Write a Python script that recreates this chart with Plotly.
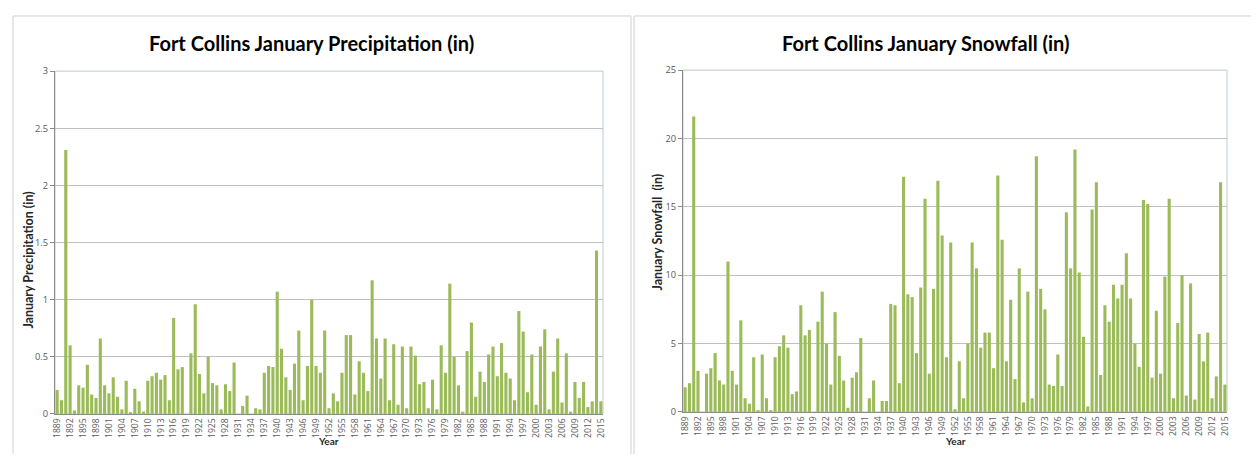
import plotly.graph_objects as go

years = list(range(1889, 2016))

precip_in = [
    0.21, 0.12, 2.31, 0.60, 0.03, 0.25, 0.23, 0.43, 0.17, 0.14,
    0.66, 0.25, 0.18, 0.32, 0.15, 0.04, 0.29, 0.01, 0.22, 0.11,
    0.02, 0.29, 0.33, 0.36, 0.30, 0.34, 0.12, 0.84, 0.39, 0.41,
    0.00, 0.53, 0.96, 0.35, 0.18, 0.50, 0.27, 0.25, 0.04, 0.26,
    0.20, 0.45, 0.00, 0.07, 0.16, 0.00, 0.05, 0.04, 0.36, 0.42,
    0.41, 1.07, 0.57, 0.32, 0.21, 0.44, 0.73, 0.12, 0.42, 1.00,
    0.42, 0.36, 0.73, 0.05, 0.18, 0.11, 0.36, 0.69, 0.69, 0.17,
    0.46, 0.36, 0.20, 1.17, 0.66, 0.31, 0.66, 0.12, 0.61, 0.08,
    0.59, 0.05, 0.59, 0.51, 0.26, 0.28, 0.05, 0.30, 0.04, 0.60,
    0.36, 1.14, 0.50, 0.25, 0.02, 0.55, 0.80, 0.15, 0.37, 0.28,
    0.52, 0.59, 0.33, 0.62, 0.36, 0.31, 0.12, 0.90, 0.72, 0.19,
    0.52, 0.08, 0.59, 0.74, 0.04, 0.37, 0.66, 0.10, 0.53, 0.02,
    0.28, 0.14, 0.28, 0.06, 0.11, 1.43, 0.11,
]

snowfall_in = [
    1.8, 2.1, 21.6, 3.0, 0.0, 2.8, 3.2, 4.3, 2.3, 2.0,
    11.0, 3.0, 2.0, 6.7, 1.0, 0.6, 4.0, 0.1, 4.2, 1.0,
    0.1, 4.0, 4.8, 5.6, 4.7, 1.3, 1.5, 7.8, 5.6, 6.0,
    0.0, 6.6, 8.8, 5.0, 2.0, 7.3, 4.1, 2.3, 0.3, 2.5,
    2.9, 5.4, 0.0, 1.0, 2.3, 0.0, 0.8, 0.8, 7.9, 7.8,
    2.1, 17.2, 8.6, 8.4, 4.3, 9.1, 15.6, 2.8, 9.0, 16.9,
    12.9, 4.0, 12.4, 0.2, 3.7, 1.0, 5.0, 12.4, 10.5, 4.7,
    5.8, 5.8, 3.2, 17.3, 12.6, 3.7, 8.2, 2.4, 10.5, 0.7,
    8.8, 1.0, 18.7, 9.0, 7.5, 2.0, 1.9, 4.2, 1.9, 14.6,
    10.5, 19.2, 10.2, 5.5, 0.4, 14.8, 16.8, 2.7, 7.8, 6.6,
    9.3, 8.3, 9.3, 11.6, 8.3, 5.0, 3.3, 15.5, 15.2, 2.5,
    7.4, 2.8, 9.9, 15.6, 1.0, 6.5, 10.0, 1.2, 9.4, 0.9,
    5.7, 3.7, 5.8, 1.0, 2.6, 16.8, 2.0,
]

tick_years = years[::3]
tick_labels = [str(y) for y in tick_years]

W, H = 1243, 446
# observed placement of the figure in the final picture
OX, OY = 14.0, 15.0
SX, SY = 1235.0 / W, 432.0 / H

BAR = "#9bbb59"
GRID = "#c0c0c0"
AXIS = "#8c8c8c"
YTICKFONT = dict(family="Open Sans", size=9.3, color="#595959")
XTICKFONT = dict(family="Open Sans", size=8.6, color="#595959")
FONT = "Lato"

def px_x(rx):
    return ((rx - OX) / SX) / W

def px_y(ry):
    return 1 - ((ry - OY) / SY) / H

fig = go.Figure()
fig.add_trace(go.Bar(x=years, y=precip_in, marker_color=BAR, marker_line_width=0,
                     xaxis="x", yaxis="y", showlegend=False))
fig.add_trace(go.Bar(x=years, y=snowfall_in, marker_color=BAR, marker_line_width=0,
                     xaxis="x2", yaxis="y2", showlegend=False))

xcommon = dict(range=[1888.5, 2015.5], tickmode="array", tickvals=tick_years,
               ticktext=tick_labels, tickangle=-90, tickfont=XTICKFONT,
               showgrid=False, showline=True, linecolor=AXIS, linewidth=1,
               ticks="", zeroline=False, fixedrange=True)
ycommon = dict(showgrid=True, gridcolor=GRID, gridwidth=1, showline=True,
               linecolor=AXIS, linewidth=1, ticks="outside", ticklen=4,
               tickcolor=AXIS, tickfont=YTICKFONT, zeroline=False, fixedrange=True)

fig.update_layout(
    width=W, height=H,
    margin=dict(l=0, r=0, t=0, b=0),
    paper_bgcolor="white", plot_bgcolor="white",
    bargap=0.28,
    xaxis=dict(domain=[px_x(57), px_x(605)], anchor="y", **xcommon),
    yaxis=dict(domain=[px_y(413), px_y(71)], anchor="x", range=[0, 3], dtick=0.5,
               **ycommon),
    xaxis2=dict(domain=[px_x(685), px_x(1229)], anchor="y2", **xcommon),
    yaxis2=dict(domain=[px_y(411), px_y(70)], anchor="x2", range=[0, 25], dtick=5,
                **ycommon),
)

# chart frames (drawn as close to the page edges as the figure allows)
top = 1 - 1.0 / H
fig.add_shape(type="rect", xref="paper", yref="paper", x0=1.0 / W, x1=px_x(633),
              y0=-0.1, y1=top, line=dict(color="#d0d0d0", width=1), layer="below")
fig.add_shape(type="rect", xref="paper", yref="paper", x0=px_x(636), x1=1.1,
              y0=-0.1, y1=top, line=dict(color="#d0d0d0", width=1), layer="below")
# plot-area borders
for xr, yr in (("x domain", "y domain"), ("x2 domain", "y2 domain")):
    fig.add_shape(type="rect", xref=xr, yref=yr, x0=0, x1=1, y0=0, y1=1,
                  line=dict(color="#b9c9d8", width=1), layer="below")

ann = []
ann.append(dict(text="<b>Fort Collins January Precipitation (in)</b>", x=px_x(313), y=px_y(43),
                font=dict(family=FONT, size=20, color="#000000")))
ann.append(dict(text="<b>Fort Collins January Snowfall (in)</b>", x=px_x(928), y=px_y(43),
                font=dict(family=FONT, size=20, color="#000000")))
ann.append(dict(text="<b>January Precipitation (in)</b>", x=px_x(31), y=px_y(260), textangle=-90,
                font=dict(family=FONT, size=12.5, color="#262626")))
ann.append(dict(text="<b>January Snowfall  (in)</b>", x=px_x(660), y=px_y(232), textangle=-90,
                font=dict(family=FONT, size=12.5, color="#262626")))
ann.append(dict(text="<b>Year</b>", x=px_x(330), y=px_y(440.5),
                font=dict(family=FONT, size=10, color="#262626")))
ann.append(dict(text="<b>Year</b>", x=px_x(957), y=px_y(440.5),
                font=dict(family=FONT, size=10, color="#262626")))
for a in ann:
    fig.add_annotation(xref="paper", yref="paper", showarrow=False,
                       xanchor="center", yanchor="middle", **a)

fig.write_html("out.html", config={"displayModeBar": False})
